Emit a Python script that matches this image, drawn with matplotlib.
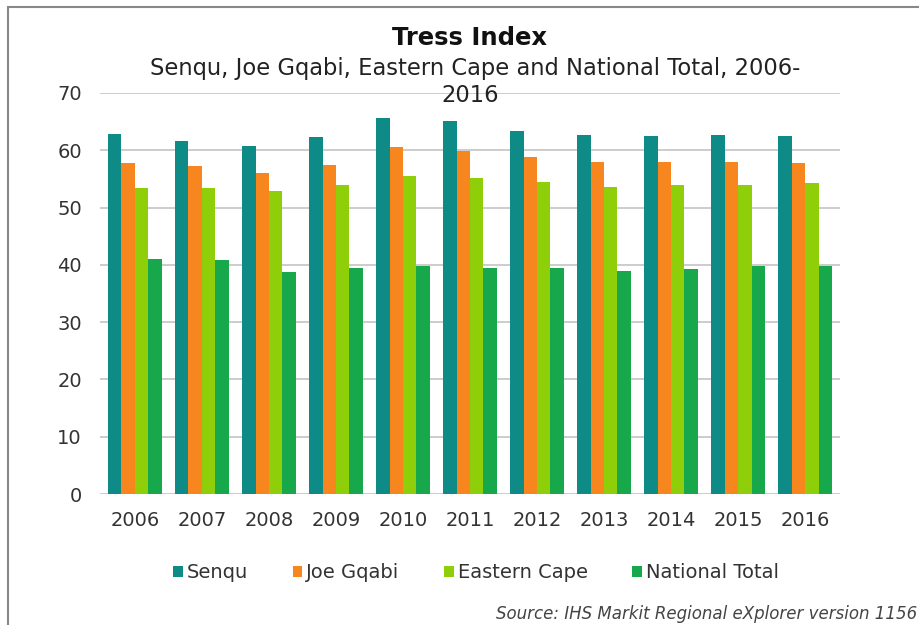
import matplotlib.pyplot as plt
import numpy as np
from matplotlib.patches import Rectangle

years = ['2006', '2007', '2008', '2009', '2010', '2011',
         '2012', '2013', '2014', '2015', '2016']
senqu = [62.8, 61.7, 60.8, 62.4, 65.6, 65.1, 63.4, 62.6, 62.5, 62.7, 62.5]
joe_gqabi = [57.7, 57.3, 56.0, 57.5, 60.5, 59.9, 58.9, 58.0, 57.9, 58.0, 57.8]
eastern_cape = [53.4, 53.4, 52.9, 53.9, 55.5, 55.1, 54.5, 53.6, 54.0, 54.0, 54.3]
national = [41.0, 40.8, 38.8, 39.4, 39.8, 39.4, 39.4, 39.0, 39.2, 39.8, 39.8]

series = [('Senqu', senqu, '#0e8a87'),
          ('Joe Gqabi', joe_gqabi, '#f7861e'),
          ('Eastern Cape', eastern_cape, '#8fcf0a'),
          ('National Total', national, '#16a84a')]

plt.rcParams['font.family'] = 'DejaVu Sans'
fig = plt.figure(figsize=(9.2, 6.25), dpi=100)
ax = fig.add_axes([100 / 920, 1 - 494 / 625, 740 / 920, 401 / 625])

x = np.arange(len(years))
w = 0.2
for i, (name, vals, col) in enumerate(series):
    ax.bar(x + (i - 1.5) * w, vals, w, color=col, label=name, zorder=3)

ax.set_xlim(-0.52, len(years) - 0.48)
ax.set_ylim(0, 70)
ax.set_yticks(range(0, 71, 10))
ax.set_xticks(x)
ax.set_xticklabels(years)
ax.grid(axis='y', color='#c4c4c4', linewidth=1.2, zorder=0)
ax.tick_params(axis='y', length=0, pad=13, labelsize=14, labelcolor='#333333')
ax.tick_params(axis='x', length=0, pad=12, labelsize=14, labelcolor='#333333')
for s in ax.spines.values():
    s.set_visible(False)

fig.text(470 / 920, 1 - 38 / 625, 'Tress Index', ha='center', va='center',
         fontsize=17.5, fontweight='bold', color='#111111')
fig.text(475 / 920, 1 - 68 / 625, 'Senqu, Joe Gqabi, Eastern Cape and National Total, 2006-',
         ha='center', va='center', fontsize=16.3, color='#222222')
fig.text(470 / 920, 1 - 95 / 625, '2016', ha='center', va='center',
         fontsize=16.3, color='#222222')

leg = fig.legend(loc='center', bbox_to_anchor=(476 / 920, 1 - 573 / 625), ncol=4,
                 frameon=False, fontsize=14, handlelength=0.5, handleheight=0.5,
                 handletextpad=0.2, columnspacing=2.3)
for t in leg.get_texts():
    t.set_color('#333333')

fig.text(917 / 920, 1 - 623 / 625, 'Source: IHS Markit Regional eXplorer version 1156',
         ha='right', va='bottom', fontsize=12, style='italic', color='#444444')

fig.patches.append(Rectangle((8 / 920, -0.01), 1.0, 1 - 7 / 625 + 0.01,
                             transform=fig.transFigure, fill=False,
                             edgecolor='#888888', linewidth=1.5))

fig.savefig('out.png', dpi=100)
